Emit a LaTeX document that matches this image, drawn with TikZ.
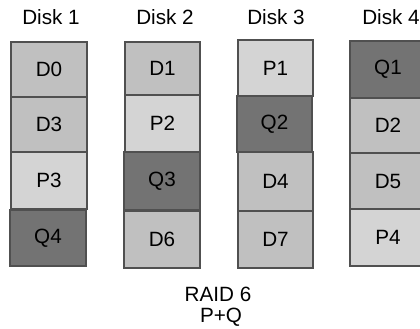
\documentclass[tikz,border=0pt]{standalone}
\usepackage{fontspec}
\setmainfont{Liberation Sans}
\definecolor{dcol}{HTML}{C0C0C0}
\definecolor{pcol}{HTML}{D4D4D4}
\definecolor{qcol}{HTML}{737373}
\definecolor{edge}{HTML}{505050}
\tikzset{
  cellbase/.style={draw=edge, line width=0.8pt, inner sep=0pt, font=\fontsize{15.5}{18}\selectfont, text=black},
  dcell/.style={cellbase, fill=dcol},
  pcell/.style={cellbase, fill=pcol},
  qcell/.style={cellbase, fill=qcol},
  disklabel/.style={font=\fontsize{15.5}{18}\selectfont, text=black, inner sep=0pt},
}
\newcommand\mycell[7]{\node[#2, minimum width={(#5-#3)*0.75pt}, minimum height={(#6-#4)*0.75pt}] (#1) at ({(#3+#5)/2},{(#4+#6)/2}) {#7};}
\begin{document}
\begin{tikzpicture}[x=0.75pt, y=-0.75pt]
\clip (0,0) rectangle (420,328);
\fill[white] (0,0) rectangle (420,328);
% labels
\node[disklabel] (l1) at (51,17) {Disk 1};
\node[disklabel] (l2) at (165,17) {Disk 2};
\node[disklabel] (l3) at (276,17) {Disk 3};
\node[disklabel] (l4) at (391,17) {Disk 4};
% column 1
\mycell{d0}{dcell}{11}{42}{87}{97}{D0}
\mycell{d3}{dcell}{11}{97}{87}{152}{D3}
\mycell{p3}{pcell}{11}{152}{87}{209}{P3}
\mycell{q4}{qcell}{10}{210}{86}{266}{Q4}
% column 2
\mycell{d1}{dcell}{125}{42}{200}{95}{D1}
\mycell{p2}{pcell}{125}{95}{200}{152}{P2}
\mycell{q3}{qcell}{124}{152}{200}{210}{Q3}
\mycell{d6}{dcell}{124}{211}{200}{268}{D6}
% column 3
\mycell{p1}{pcell}{238}{40}{313}{96}{P1}
\mycell{q2}{qcell}{237}{96}{312}{152}{Q2}
\mycell{d4}{dcell}{238}{152}{313}{211}{D4}
\mycell{d7}{dcell}{238}{211}{313}{268}{D7}
% column 4
\mycell{q1}{qcell}{350}{41}{426}{98}{Q1}
\mycell{d2}{dcell}{350}{98}{426}{153}{D2}
\mycell{d5}{dcell}{350}{153}{426}{209}{D5}
\mycell{p4}{pcell}{350}{209}{426}{266}{P4}
% caption
\node[disklabel] (cap1) at (218,294) {RAID 6};
\node[disklabel] (cap2) at (221,317) {P+Q};
\end{tikzpicture}
\end{document}
